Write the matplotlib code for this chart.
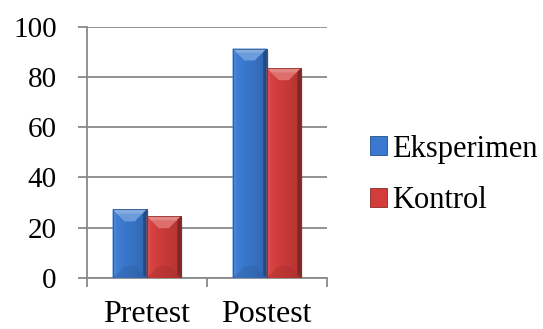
import numpy as np
import matplotlib
matplotlib.use("Agg")
import matplotlib.pyplot as plt
from matplotlib.patches import Polygon, Rectangle
from matplotlib.colors import to_rgb

categories = ["Pretest", "Postest"]
series_names = ["Eksperimen", "Kontrol"]
eksperimen = [27.3, 91.3]
kontrol = [24.6, 83.5]
y_ticks = [0, 20, 40, 60, 80, 100]

base_colors = {"Eksperimen": "#3A79CF", "Kontrol": "#D23D3B"}

plt.rcParams["font.family"] = ["Liberation Serif", "DejaVu Serif"]
FS_Y = 21
FS_X = 23
FS_LEG = 22
AXIS_GRAY = "#898989"

fig = plt.figure(figsize=(5.43, 3.29), dpi=100)
ax = fig.add_axes([86.7 / 543, 51 / 329, 240 / 543, 251.3 / 329])
ax.set_xlim(-0.5, len(categories) - 0.5)
ax.set_ylim(0, 100)

x = np.arange(len(categories))
bar_w = 0.285
values = [eksperimen, kontrol]


def shade(c, f):
    r = np.array(to_rgb(c))
    if f >= 0:
        return tuple(r + (1 - r) * f)
    return tuple(r * (1 + f))


def beveled_bar(ax, x0, w, h, color):
    # body with a left-to-right shading
    grad = np.linspace(0, 1, 64)
    cols = np.array([shade(color, 0.06 - 0.22 * g) for g in grad])
    img = cols[np.newaxis, :, :]
    im = ax.imshow(img, extent=(x0, x0 + w, 0, h), aspect="auto",
                   zorder=3, interpolation="bilinear")
    im.set_clip_path(Rectangle((x0, 0), w, h, transform=ax.transData))
    # bevel depth: fixed pixel size converted to data units
    px_x = ax.bbox.width / (ax.get_xlim()[1] - ax.get_xlim()[0])
    px_y = ax.bbox.height / (ax.get_ylim()[1] - ax.get_ylim()[0])
    depth_px = 12
    bx = depth_px / px_x
    by = min(depth_px / px_y, h / 2)
    sx = 3.5 / px_x
    sy = 3.5 / px_y
    top = Polygon([(x0, h), (x0 + w, h), (x0 + w - bx, h - by), (x0 + bx, h - by)],
                  closed=True, facecolor=shade(color, 0.25), edgecolor="none", zorder=4)
    top_hi = Polygon([(x0, h), (x0 + w, h), (x0 + w - bx * 0.35, h - by * 0.35),
                      (x0 + bx * 0.35, h - by * 0.35)],
                     closed=True, facecolor=shade(color, 0.38), edgecolor="none", zorder=4)
    left = Polygon([(x0, 0), (x0, h), (x0 + sx, h - sy), (x0 + sx, sy)],
                   closed=True, facecolor=shade(color, 0.08), edgecolor="none", zorder=4)
    right = Polygon([(x0 + w, 0), (x0 + w, h), (x0 + w - sx, h - sy), (x0 + w - sx, sy)],
                    closed=True, facecolor=shade(color, -0.38), edgecolor="none", zorder=4)
    bottom = Polygon([(x0, 0), (x0 + w, 0), (x0 + w - bx, by), (x0 + bx, by)],
                     closed=True, facecolor=shade(color, -0.25), edgecolor="none",
                     zorder=4, alpha=0.35)
    shadow = Rectangle((x0 + w, 0), 2.5 / px_x, h - 2 / px_y, facecolor="#000000",
                       alpha=0.10, edgecolor="none", zorder=2)
    for p in (shadow, top, top_hi, left, right, bottom):
        ax.add_patch(p)
    ax.add_patch(Rectangle((x0, 0), w, h, facecolor="none",
                           edgecolor=shade(color, -0.35), lw=0.5, zorder=5))


for i, (name, vals) in enumerate(zip(series_names, values)):
    offs = (i - 0.5) * bar_w
    bars = ax.bar(x + offs, vals, bar_w, color=base_colors[name], zorder=3, label=name)
    for b in bars:
        beveled_bar(ax, b.get_x(), b.get_width(), b.get_height(), base_colors[name])

ax.set_xlim(-0.5, len(categories) - 0.5)
ax.set_ylim(0, 100)

# axes styling
for s in ("top", "right"):
    ax.spines[s].set_visible(False)
for s in ("left", "bottom"):
    ax.spines[s].set_color(AXIS_GRAY)
    ax.spines[s].set_linewidth(1.3)

ax.set_yticks(y_ticks)
ax.set_yticklabels([str(t) for t in y_ticks], fontsize=FS_Y)
ax.yaxis.grid(True, color=AXIS_GRAY, lw=1.3, zorder=0)
ax.set_axisbelow(True)
ax.tick_params(axis="y", direction="out", length=6.5, width=1.3, color=AXIS_GRAY, pad=15)

ax.set_xticks(np.arange(len(categories) + 1) - 0.5)
ax.set_xticklabels([])
ax.set_xticks(x, minor=True)
ax.set_xticklabels(categories, minor=True, fontsize=FS_X)
ax.tick_params(axis="x", which="major", direction="out", length=6.5, width=1.3, color=AXIS_GRAY)
ax.tick_params(axis="x", which="minor", length=0, pad=16)

# legend with square swatches
handles = []
for name in series_names:
    handles.append(Rectangle((0, 0), 1, 1, facecolor=base_colors[name],
                             edgecolor=shade(base_colors[name], -0.35), lw=0.6))
leg = fig.legend(handles, series_names, loc="center left",
                 bbox_to_anchor=(370 / 543, 1 - 175 / 329), frameon=False,
                 fontsize=FS_LEG, handlelength=0.56, handleheight=0.56,
                 handletextpad=0.15, labelspacing=0.75, borderaxespad=0, borderpad=0)

fig.savefig("out.png", dpi=100)
